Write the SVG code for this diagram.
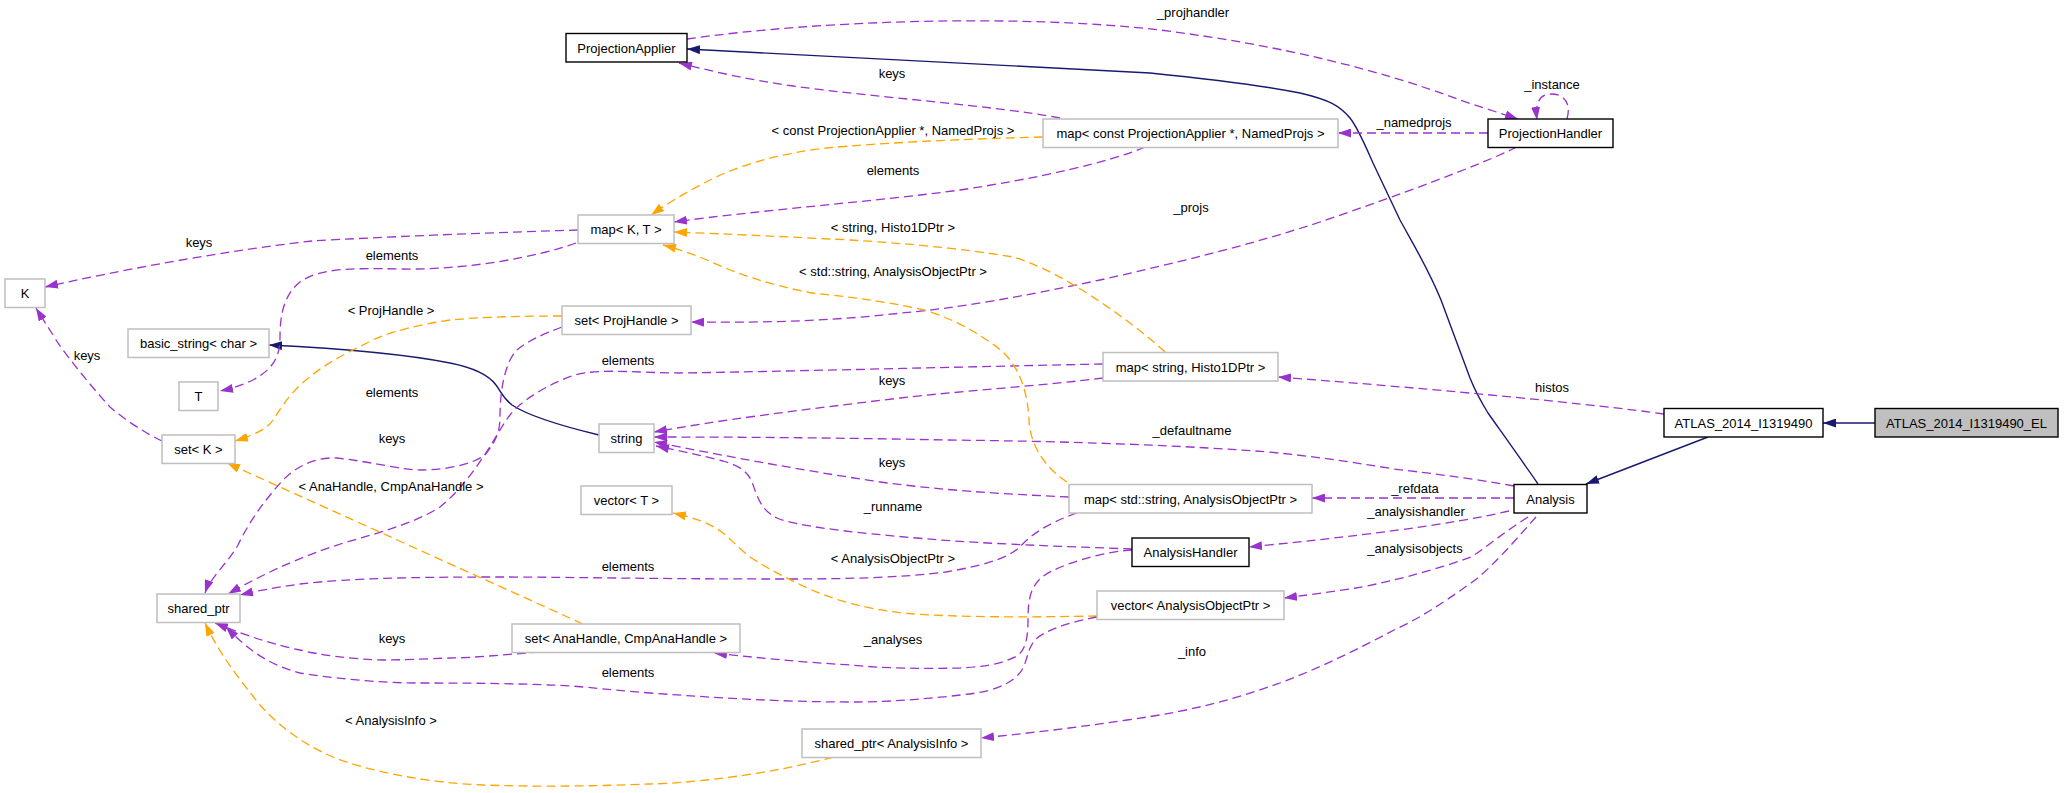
<svg xmlns="http://www.w3.org/2000/svg" width="2064" height="793" viewBox="0 0 2064 793">
<style>
text{font-family:"Liberation Sans",Arial,sans-serif;font-size:13px;fill:#000}
.n text{text-anchor:middle}
.b{fill:#fff;stroke:#000;stroke-width:1.4}
.g{fill:#fff;stroke:#bfbfbf;stroke-width:1.5}
.s{fill:#bfbfbf;stroke:#000;stroke-width:1.4}
.p{fill:none;stroke:#9a32cd;stroke-width:1.3;stroke-dasharray:9,5;marker-end:url(#aP)}
.o{fill:none;stroke:#ffa500;stroke-width:1.3;stroke-dasharray:9,5;marker-end:url(#aO)}
.v{fill:none;stroke:#191970;stroke-width:1.4;marker-end:url(#aN)}
.l text{text-anchor:middle}
</style>
<defs>
<marker id="aP" markerUnits="userSpaceOnUse" markerWidth="13" markerHeight="9" refX="13" refY="4.5" orient="auto"><path d="M0,0 L13,4.5 L0,9 z" fill="#9a32cd"/></marker>
<marker id="aO" markerUnits="userSpaceOnUse" markerWidth="13" markerHeight="9" refX="13" refY="4.5" orient="auto"><path d="M0,0 L13,4.5 L0,9 z" fill="#ffa500"/></marker>
<marker id="aN" markerUnits="userSpaceOnUse" markerWidth="13" markerHeight="9" refX="13" refY="4.5" orient="auto"><path d="M0,0 L13,4.5 L0,9 z" fill="#191970"/></marker>
</defs>
<rect width="2064" height="793" fill="#fff"/>
<g id="edges">
<path class="v" d="M1875,423 L1823,423"/>
<path class="v" d="M1708,437 L1586,484"/>
<path class="v" d="M1538,484 C1525,465 1500,430 1488,413 C1480,400 1476,393 1470,378 L1441,300 C1428,268 1412,242 1400,220 L1373,163 C1365,145 1358,128 1350,118 C1340,106 1330,100 1300,93 C1250,83 1180,76 1150,73 L687,49"/>
<path class="v" d="M599,435 C570,428 530,417 512,405 C503,398 500,390 496,385 C488,374 470,367 450,363 C400,353 330,348 269,345"/>
<path class="p" d="M687,39 C820,20 1020,14 1160,30 C1280,45 1380,70 1460,100 C1480,107 1500,113 1518,119"/>
<path class="p" d="M1567,119 C1571,105 1566,94 1551,94 C1540,94 1535,102 1537,120"/>
<path class="p" d="M1488,133 L1338,133"/>
<path class="p" d="M1060,118 C990,105 880,98 793,86 C750,80 715,72 679,63"/>
<path class="o" d="M1043,137 C960,139 880,143 827,148 C780,153 740,165 710,180 C690,190 668,203 651,215"/>
<path class="p" d="M1145,147 C1110,162 1040,178 960,190 C880,201 760,210 674,222"/>
<path class="p" d="M578,230 C480,233 380,237 312,241 C230,250 120,270 45,287"/>
<path class="p" d="M576,243 C540,256 470,270 402,269 C350,268 320,268 300,282 C282,296 280,320 280,337 C280,355 275,368 253,380 C240,386 230,389 220,391"/>
<path class="p" d="M162,441 C145,433 125,420 110,407 C90,385 70,360 58,343 C50,330 42,318 36,308"/>
<path class="o" d="M562,316 C520,316 480,317 450,320 C410,326 380,335 367,343 C340,356 320,367 300,385 C285,400 280,410 273,420 C268,428 255,435 235,441"/>
<path class="p" d="M562,327 C540,335 525,343 517,350 C505,362 500,390 500,417 C500,430 497,440 485,455 C470,466 440,470 423,470 C400,470 380,463 337,458 C320,457 300,463 283,480 C265,500 250,520 238,545 C230,560 210,578 205,593"/>
<path class="p" d="M1103,364 C1000,366 760,372 680,373 C640,373 600,368 575,375 C545,385 520,402 510,415 C500,428 495,440 483,457 C470,477 455,495 440,507 C420,520 390,530 350,541 C310,553 270,570 228,594"/>
<path class="p" d="M1077,513 C1050,522 1030,535 1020,547 C1005,560 980,566 946,572 C900,578 840,579 786,579 C650,579 560,577 500,577 C420,577 350,578 300,584 C280,587 260,590 240,595"/>
<path class="o" d="M1097,616 C1040,617 960,618 902,613 C860,608 830,598 812,590 C790,580 770,570 750,557 C735,545 730,538 723,533 C710,523 695,518 673,513"/>
<path class="p" d="M1097,617 C1070,622 1045,630 1035,640 C1026,650 1028,665 1018,675 C1005,688 985,692 969,694 C920,700 880,702 857,702 C780,702 720,698 650,693 C600,689 570,685 550,685 C500,683 450,683 417,683 C380,683 330,678 300,673 C270,665 250,652 226,627"/>
<path class="p" d="M540,652 C500,655 470,658 450,658 C420,659 400,660 383,660 C350,659 320,655 300,650 C275,645 250,637 215,623"/>
<path class="o" d="M583,624 L227,463"/>
<path class="o" d="M833,757 C780,772 700,783 650,784 C600,786 540,787 483,785 C430,783 370,772 333,757 C300,743 275,722 260,705 C240,680 220,655 205,623"/>
<path class="p" d="M1132,550 C1100,552 1060,565 1045,575 C1030,585 1028,600 1028,620 C1028,640 1025,650 1017,656 C1000,665 980,667 960,668 C920,669 880,668 850,665 C800,662 760,658 714,653"/>
<path class="p" d="M1132,549 C1080,547 1010,545 940,540 C880,535 800,528 777,518 C760,510 757,495 752,482 C748,472 740,466 723,461 C700,455 680,451 656,446"/>
<path class="p" d="M1069,497 C1000,494 940,490 880,482 C800,470 720,455 654,442"/>
<path class="p" d="M1514,486 C1470,478 1420,472 1394,469 C1340,460 1290,453 1241,450 C1150,444 1050,441 946,440 C850,438 750,437 654,437"/>
<path class="p" d="M1103,378 C1050,385 950,392 900,398 C800,410 720,420 654,432"/>
<path class="p" d="M1517,147 C1480,165 1400,195 1320,222 C1250,245 1180,262 1100,280 C1030,295 960,308 902,313 C840,320 780,323 691,322"/>
<path class="p" d="M1664,414 C1600,405 1450,390 1278,377"/>
<path class="o" d="M1165,352 C1130,320 1060,270 1013,257 C960,248 900,243 850,240 C790,237 730,234 674,232"/>
<path class="o" d="M1067,482 C1045,468 1030,445 1029,420 C1028,395 1020,360 991,343 C970,328 950,318 924,310 C880,300 840,296 812,293 C770,285 740,275 707,260 C690,253 675,248 663,245"/>
<path class="p" d="M1514,498 L1312,498"/>
<path class="p" d="M1509,511 C1450,525 1350,537 1249,547"/>
<path class="p" d="M1528,517 C1500,535 1480,552 1471,557 C1430,572 1380,584 1356,588 C1330,592 1300,596 1284,598"/>
<path class="p" d="M1536,517 C1520,535 1490,570 1471,583 C1440,605 1420,618 1394,630 C1360,648 1320,668 1280,683 C1240,697 1200,710 1127,720 C1080,727 1040,732 981,738"/>
</g>
<g id="edge-labels" class="l">
<text x="1193" y="17">_projhandler</text>
<text x="1552" y="89">_instance</text>
<text x="1414" y="127">_namedprojs</text>
<text x="892" y="78">keys</text>
<text x="893" y="135">&lt; const ProjectionApplier *, NamedProjs &gt;</text>
<text x="893" y="175">elements</text>
<text x="199" y="247">keys</text>
<text x="392" y="260">elements</text>
<text x="1191" y="212">_projs</text>
<text x="893" y="232">&lt; string, Histo1DPtr &gt;</text>
<text x="893" y="276">&lt; std::string, AnalysisObjectPtr &gt;</text>
<text x="391" y="315">&lt; ProjHandle &gt;</text>
<text x="87" y="360">keys</text>
<text x="628" y="365">elements</text>
<text x="892" y="385">keys</text>
<text x="1552" y="392">histos</text>
<text x="392" y="397">elements</text>
<text x="1192" y="435">_defaultname</text>
<text x="392" y="443">keys</text>
<text x="892" y="467">keys</text>
<text x="391" y="491">&lt; AnaHandle, CmpAnaHandle &gt;</text>
<text x="1415" y="493">_refdata</text>
<text x="893" y="511">_runname</text>
<text x="1416" y="516">_analysishandler</text>
<text x="1415" y="553">_analysisobjects</text>
<text x="893" y="563">&lt; AnalysisObjectPtr &gt;</text>
<text x="628" y="571">elements</text>
<text x="392" y="643">keys</text>
<text x="893" y="644">_analyses</text>
<text x="1192" y="656">_info</text>
<text x="628" y="677">elements</text>
<text x="391" y="725">&lt; AnalysisInfo &gt;</text>
</g>
<g id="n-EL" class="n"><rect class="s" x="1875" y="408.5" width="183" height="28.5"/><text x="1966.5" y="427.5">ATLAS_2014_I1319490_EL</text></g>
<g id="n-ATLAS" class="n"><rect class="b" x="1664" y="408.5" width="159" height="28.5"/><text x="1743.5" y="427.5">ATLAS_2014_I1319490</text></g>
<g id="n-Analysis" class="n"><rect class="b" x="1514" y="484.5" width="73" height="28.5"/><text x="1550.5" y="503.5">Analysis</text></g>
<g id="n-ProjectionApplier" class="n"><rect class="b" x="566" y="33.5" width="121" height="28.5"/><text x="626.5" y="52.5">ProjectionApplier</text></g>
<g id="n-ProjectionHandler" class="n"><rect class="b" x="1488" y="119" width="125" height="28.5"/><text x="1550.5" y="138">ProjectionHandler</text></g>
<g id="n-mapConstPA" class="n"><rect class="g" x="1043" y="119" width="295" height="28.5"/><text x="1190.5" y="138">map&lt; const ProjectionApplier *, NamedProjs &gt;</text></g>
<g id="n-mapKT" class="n"><rect class="g" x="578" y="215" width="96" height="28.5"/><text x="626" y="234">map&lt; K, T &gt;</text></g>
<g id="n-K" class="n"><rect class="g" x="5" y="279" width="40" height="28.5"/><text x="25" y="298">K</text></g>
<g id="n-basic_string" class="n"><rect class="g" x="128" y="329" width="141" height="28.5"/><text x="198.5" y="348">basic_string&lt; char &gt;</text></g>
<g id="n-setProjHandle" class="n"><rect class="g" x="562" y="306" width="129" height="28.5"/><text x="626.5" y="325">set&lt; ProjHandle &gt;</text></g>
<g id="n-T" class="n"><rect class="g" x="179" y="382" width="39" height="28.5"/><text x="198.5" y="401">T</text></g>
<g id="n-setK" class="n"><rect class="g" x="162" y="435" width="73" height="28.5"/><text x="198.5" y="454">set&lt; K &gt;</text></g>
<g id="n-string" class="n"><rect class="g" x="599" y="424" width="55" height="28.5"/><text x="626.5" y="443">string</text></g>
<g id="n-vectorT" class="n"><rect class="g" x="581" y="486" width="91" height="28.5"/><text x="626.5" y="505">vector&lt; T &gt;</text></g>
<g id="n-shared_ptr" class="n"><rect class="g" x="157" y="594" width="83" height="28.5"/><text x="198.5" y="613">shared_ptr</text></g>
<g id="n-setAnaHandle" class="n"><rect class="g" x="512" y="624" width="228" height="28.5"/><text x="626" y="643">set&lt; AnaHandle, CmpAnaHandle &gt;</text></g>
<g id="n-mapHisto" class="n"><rect class="g" x="1103" y="352.5" width="175" height="28.5"/><text x="1190.5" y="371.5">map&lt; string, Histo1DPtr &gt;</text></g>
<g id="n-mapAOP" class="n"><rect class="g" x="1069" y="484.5" width="243" height="28.5"/><text x="1190.5" y="503.5">map&lt; std::string, AnalysisObjectPtr &gt;</text></g>
<g id="n-AnalysisHandler" class="n"><rect class="b" x="1132" y="538" width="117" height="28.5"/><text x="1190.5" y="557">AnalysisHandler</text></g>
<g id="n-vectorAOP" class="n"><rect class="g" x="1097" y="591" width="187" height="28.5"/><text x="1190.5" y="610">vector&lt; AnalysisObjectPtr &gt;</text></g>
<g id="n-sharedAI" class="n"><rect class="g" x="802" y="729" width="179" height="28.5"/><text x="891.5" y="748">shared_ptr&lt; AnalysisInfo &gt;</text></g>
</svg>
